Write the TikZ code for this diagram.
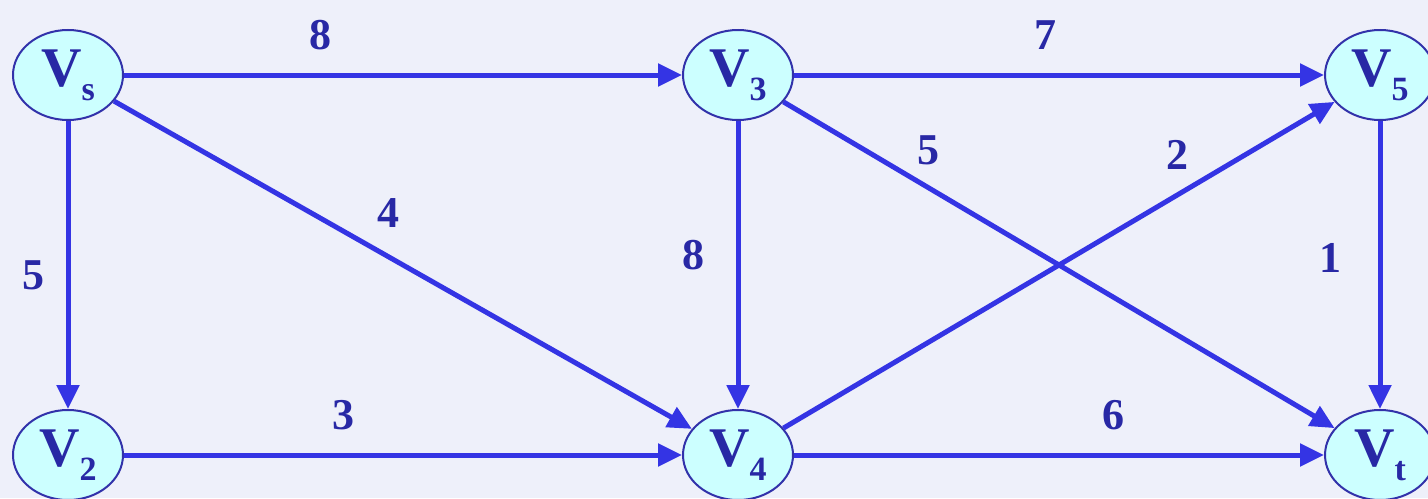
\documentclass[tikz,border=0pt]{standalone}
\usepackage{fontspec}
\setmainfont{Liberation Serif}
\usetikzlibrary{arrows.meta,shapes.geometric}
\definecolor{bgc}{RGB}{238,240,250}
\definecolor{edgec}{RGB}{52,52,228}
\definecolor{txtc}{RGB}{40,40,165}
\definecolor{nodefill}{RGB}{204,255,255}
\definecolor{nodedraw}{RGB}{50,50,170}
\newcommand{\vsub}[1]{\raisebox{-7pt}{\fontsize{17}{18}\selectfont #1}}
\tikzset{
  vert/.style={ellipse, draw=nodedraw, fill=nodefill, line width=1pt,
    minimum width=55pt, minimum height=45pt, inner sep=0pt,
    font=\fontsize{28}{30}\selectfont\bfseries, text=txtc},
  edge/.style={draw=edgec, line width=2.5pt, -{Triangle[length=12pt,width=11pt]}},
  wlabel/.style={font=\fontsize{22}{24}\selectfont\bfseries, text=txtc}
}
\begin{document}
\begin{tikzpicture}[x=0.5pt,y=-0.5pt]
\fill[bgc] (0,0) rectangle (1428,498);
\useasboundingbox (0,0) rectangle (1428,498);
\node[vert] (vs) at (68,75) {V\vsub{s}};
\node[vert] (v3) at (738,75) {V\vsub{3}};
\node[vert] (v5) at (1380,75) {V\vsub{5}};
\node[vert] (v2) at (68,455) {V\vsub{2}};
\node[vert] (v4) at (738,455) {V\vsub{4}};
\node[vert] (vt) at (1380,455) {V\vsub{t}};
\draw[edge] (vs) -- (v3);
\draw[edge] (v3) -- (v5);
\draw[edge] (vs) -- (v2);
\draw[edge] (vs) -- (v4);
\draw[edge] (v3) -- (v4);
\draw[edge] (v3) -- (vt);
\draw[edge] (v4) -- (v5);
\draw[edge] (v5) -- (vt);
\draw[edge] (v2) -- (v4);
\draw[edge] (v4) -- (vt);
\node[wlabel] (l1) at (320,35) {8};
\node[wlabel] (l2) at (1045,35) {7};
\node[wlabel] (l3) at (33,275) {5};
\node[wlabel] (l4) at (388,213) {4};
\node[wlabel] (l5) at (693,255) {8};
\node[wlabel] (l6) at (928,150) {5};
\node[wlabel] (l7) at (1177,155) {2};
\node[wlabel] (l8) at (1330,258) {1};
\node[wlabel] (l9) at (343,415) {3};
\node[wlabel] (l10) at (1113,415) {6};
\end{tikzpicture}
\end{document}
